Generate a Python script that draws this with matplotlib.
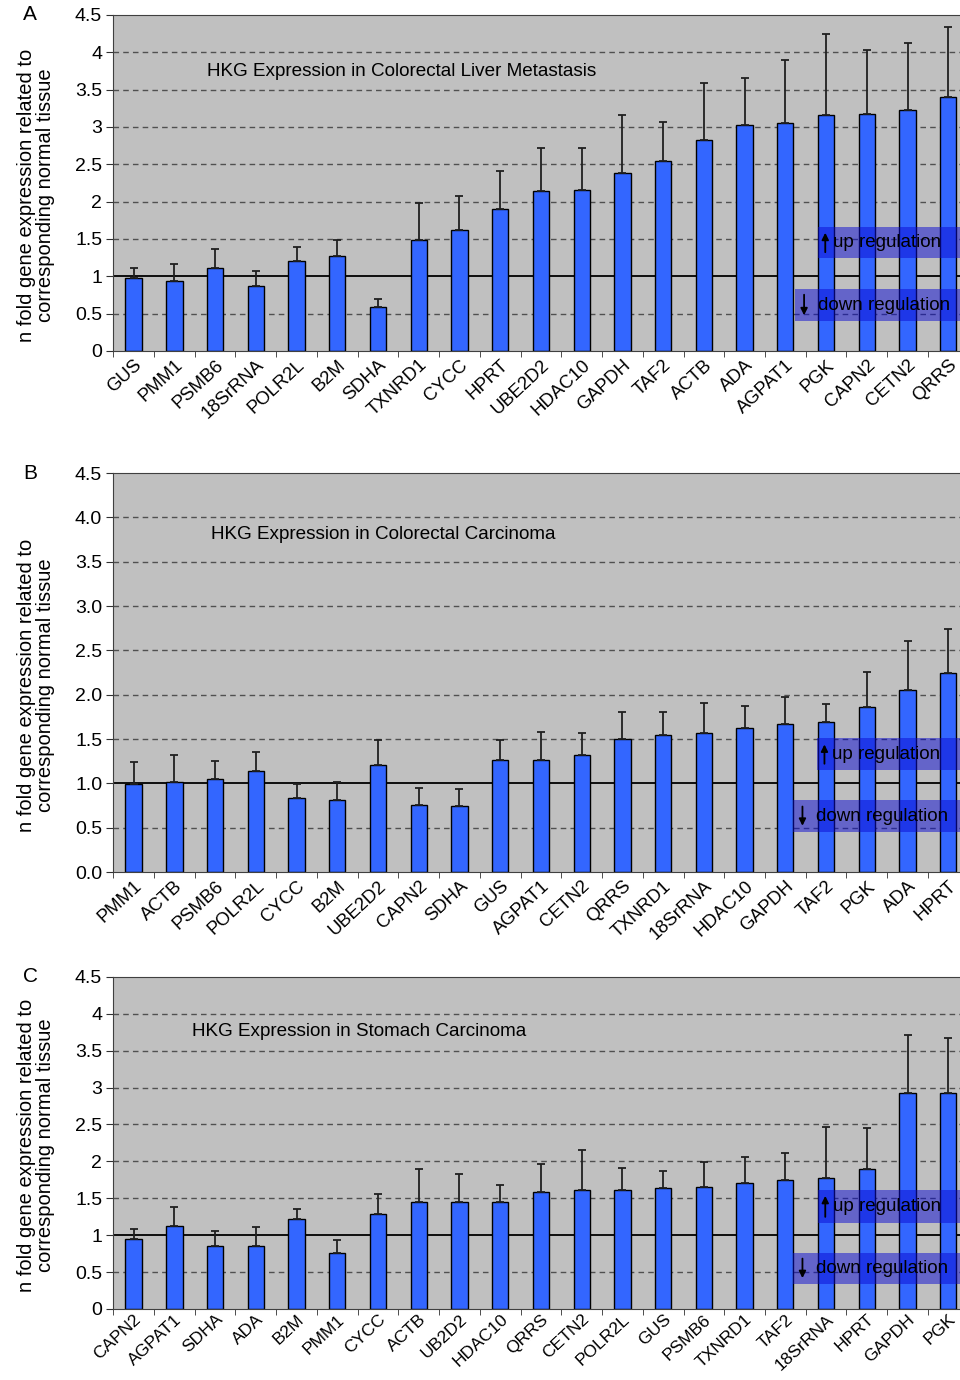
import matplotlib
matplotlib.use("Agg")
import matplotlib.pyplot as plt
import numpy as np

plt.rcParams['font.family'] = ['Liberation Sans', 'DejaVu Sans']

# panel A - colorectal liver metastasis
genes_a = ["GUS", "PMM1", "PSMB6", "18SrRNA", "POLR2L", "B2M", "SDHA", "TXNRD1", "CYCC", "HPRT",
           "UBE2D2", "HDAC10", "GAPDH", "TAF2", "ACTB", "ADA", "AGPAT1", "PGK", "CAPN2", "CETN2", "QRRS"]
mean_a = [0.98, 0.94, 1.11, 0.87, 1.20, 1.27, 0.59, 1.48, 1.62, 1.90,
          2.14, 2.16, 2.38, 2.54, 2.83, 3.02, 3.05, 3.16, 3.17, 3.23, 3.40]
upper_a = [1.11, 1.16, 1.37, 1.07, 1.39, 1.49, 0.70, 1.98, 2.08, 2.41,
           2.72, 2.72, 3.16, 3.06, 3.59, 3.66, 3.90, 4.24, 4.03, 4.12, 4.34]

# panel B - colorectal carcinoma
genes_b = ["PMM1", "ACTB", "PSMB6", "POLR2L", "CYCC", "B2M", "UBE2D2", "CAPN2", "SDHA", "GUS",
           "AGPAT1", "CETN2", "QRRS", "TXNRD1", "18SrRNA", "HDAC10", "GAPDH", "TAF2", "PGK", "ADA", "HPRT"]
mean_b = [0.99, 1.02, 1.05, 1.14, 0.83, 0.81, 1.21, 0.76, 0.74, 1.26,
          1.26, 1.32, 1.50, 1.55, 1.57, 1.62, 1.67, 1.69, 1.86, 2.05, 2.25]
upper_b = [1.24, 1.32, 1.25, 1.35, 0.99, 1.02, 1.49, 0.95, 0.94, 1.49,
           1.58, 1.57, 1.81, 1.81, 1.91, 1.87, 1.97, 1.90, 2.26, 2.61, 2.74]

# panel C - stomach carcinoma
genes_c = ["CAPN2", "AGPAT1", "SDHA", "ADA", "B2M", "PMM1", "CYCC", "ACTB", "UB2D2", "HDAC10",
           "QRRS", "CETN2", "POLR2L", "GUS", "PSMB6", "TXNRD1", "TAF2", "18SrRNA", "HPRT", "GAPDH", "PGK"]
mean_c = [0.95, 1.12, 0.85, 0.85, 1.22, 0.76, 1.29, 1.45, 1.45, 1.45,
          1.59, 1.61, 1.61, 1.64, 1.65, 1.70, 1.75, 1.77, 1.89, 2.92, 2.92]
upper_c = [1.08, 1.38, 1.06, 1.11, 1.36, 0.93, 1.56, 1.89, 1.83, 1.68,
           1.97, 2.15, 1.91, 1.87, 1.99, 2.06, 2.11, 2.46, 2.45, 3.71, 3.67]

yticks = [0, 0.5, 1, 1.5, 2, 2.5, 3, 3.5, 4, 4.5]

BAR = '#3366ff'
BG = '#c0c0c0'
BOX = (10 / 255, 10 / 255, 210 / 255)

fig = plt.figure(figsize=(9.6, 13.8), dpi=100)


def draw_panel(rect, genes, mean, upper, letter, title, title_xy, fmt, box_up, box_down, ylab_y,
               xlab_size=13.3, xlab_pad=4):
    ax = fig.add_axes(rect)
    ax.set_facecolor(BG)
    n = len(genes)
    x = np.arange(n)
    mean = np.array(mean)
    upper = np.array(upper)

    # dashed grid, solid line at 1
    for t in yticks[1:-1]:
        if t == 1:
            ax.axhline(t, color='black', lw=1.3, zorder=1)
        else:
            ax.axhline(t, color='#505050', lw=1.0, ls=(0, (4, 3)), zorder=1)

    ax.bar(x, mean, width=0.4, color=BAR, edgecolor='black', linewidth=1.0, zorder=2)
    ax.errorbar(x, mean, yerr=[np.zeros(n), upper - mean], fmt='none', ecolor='#202020',
                elinewidth=1.3, capsize=3, capthick=1.3, zorder=2.5)

    # up / down regulation boxes
    x0, y0, y1 = box_up
    ax.fill_between([x0, n + 1], y0, y1, color=BOX, alpha=0.5, lw=0, zorder=3)
    ax.annotate('', xy=(x0 + 0.18, y1 - 0.04), xytext=(x0 + 0.18, y0 + 0.04),
                arrowprops=dict(arrowstyle='-|>', color='black', lw=1.3, mutation_scale=10), zorder=4)
    ax.text(x0 + 0.37, (y0 + y1) / 2, 'up regulation', fontsize=13.5, va='center', ha='left', zorder=4)
    x0, y0, y1 = box_down
    ax.fill_between([x0, n + 1], y0, y1, color=BOX, alpha=0.5, lw=0, zorder=3)
    ax.annotate('', xy=(x0 + 0.22, y0 + 0.04), xytext=(x0 + 0.22, y1 - 0.04),
                arrowprops=dict(arrowstyle='-|>', color='black', lw=1.3, mutation_scale=10), zorder=4)
    ax.text(x0 + 0.55, (y0 + y1) / 2, 'down regulation', fontsize=13.5, va='center', ha='left', zorder=4)

    ax.set_xlim(-0.5, n - 0.5)
    ax.set_ylim(0, 4.5)
    ax.set_yticks(yticks)
    ax.set_yticklabels([fmt(t) for t in yticks], fontsize=14)
    ax.set_xticks(x)
    ax.set_xticklabels(genes, rotation=43, ha='right', rotation_mode='anchor', fontsize=xlab_size)
    ax.set_xticks(np.arange(n + 1) - 0.5, minor=True)
    ax.tick_params(axis='x', which='major', length=0, pad=xlab_pad)
    ax.tick_params(axis='x', which='minor', length=4, direction='out', color='#303030')
    ax.tick_params(axis='y', length=5, direction='out', color='#303030', pad=3)
    for s in ['left', 'bottom', 'top']:
        ax.spines[s].set_color('#404040')
    ax.spines['right'].set_visible(False)

    ax.text(title_xy[0], title_xy[1], title, transform=ax.transAxes, fontsize=13.6,
            ha='left', va='center', zorder=4)
    top_px = (1 - rect[1] - rect[3]) * 1380
    fig.text(30 / 960, 1 - top_px / 1380, letter, fontsize=15, ha='center', va='center')
    fig.text(36 / 960, 1 - ylab_y / 1380, 'n fold gene expression related to\ncorresponding normal tissue',
             rotation=90, fontsize=14.5, ha='center', va='center', multialignment='center', linespacing=1.0)
    return ax


gen = lambda t: ('%g' % t)
one = lambda t: ('%.1f' % t)

draw_panel([0.118, 0.7457, 0.891, 0.2435], genes_a, mean_a, upper_a, 'A',
           'HKG Expression in Colorectal Liver Metastasis', (0.110, 0.833), gen,
           (16.8, 1.245, 1.66), (16.24, 0.40, 0.83), 195)
draw_panel([0.118, 0.3681, 0.891, 0.2891], genes_b, mean_b, upper_b, 'B',
           'HKG Expression in Colorectal Carcinoma', (0.114, 0.845), one,
           (16.78, 1.15, 1.51), (16.2, 0.45, 0.81), 685)
draw_panel([0.118, 0.0515, 0.891, 0.2406], genes_c, mean_c, upper_c, 'C',
           'HKG Expression in Stomach Carcinoma', (0.092, 0.836), gen,
           (16.8, 1.17, 1.61), (16.2, 0.34, 0.76), 1145, xlab_size=12.6, xlab_pad=2)

fig.savefig('out.png', dpi=100)
